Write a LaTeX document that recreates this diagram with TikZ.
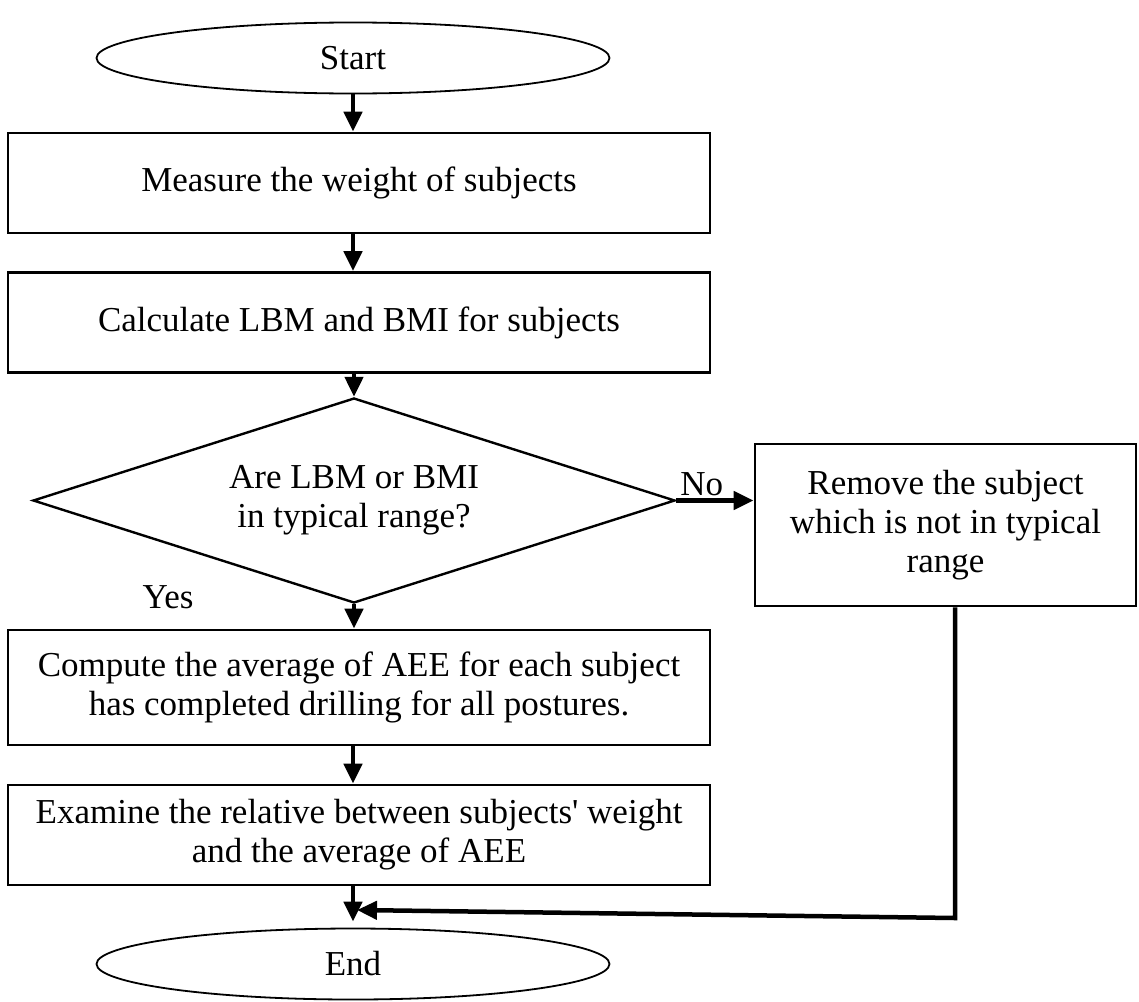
\documentclass[tikz,border=0pt]{standalone}
\usepackage{fontspec}
\setmainfont{Liberation Serif}[Ligatures=TeXOff]
\usetikzlibrary{shapes.geometric,arrows.meta}
\begin{document}
\begin{tikzpicture}[x=1pt,y=-1pt,
  txt/.style={font=\fontsize{35}{39}\selectfont, align=center},
  box/.style={draw, line width=2.8pt, rectangle, minimum width=702pt, minimum height=100pt, inner sep=0pt, txt},
  term/.style={draw, line width=1.8pt, ellipse, minimum width=513pt, minimum height=71pt, inner sep=0pt, txt},
  dec/.style={draw, line width=2.4pt, diamond, aspect=3.1317, minimum width=642pt, minimum height=205pt, inner sep=0pt, txt},
  arr/.style={line width=4.5pt, -{Triangle[length=20pt,width=18pt]}},
  lbl/.style={txt, inner sep=2pt}]
\useasboundingbox (0,0) rectangle (1139,1001);
\node[term] (start) at (353,58) {Start};
\node[box] (b1) at (359,183) {Measure the weight of subjects};
\node[box] (b2) at (359,322.5) {Calculate LBM and BMI for subjects};
\node[dec] (d) at (354,500.5) {Are LBM or BMI\\in typical range?};
\node[box, minimum width=381pt, minimum height=162pt] (r) at (945.5,525) {Remove the subject\\which is not in typical\\range};
\node[box, minimum height=115pt] (b3) at (359,687.5) {Compute the average of AEE for each subject\\has completed drilling for all postures.};
\node[box] (b4) at (359,835) {Examine the relative between subjects' weight\\and the average of AEE};
\node[term] (end) at (353,964) {End};
\node[lbl] (yes) at (168,597) {Yes};
\coordinate (c1) at (955,918);
\coordinate (c2) at (357,910);
\draw[arr] (start.south) -- (start.south |- b1.north);
\draw[arr] (start |- b1.south) -- (start |- b2.north);
\draw[arr] (d |- b2.south) -- (d.north);
\draw[arr] (d.east) -- (d.east -| r.west) node[lbl, pos=0.33, above] (no) {No};
\draw[arr] (d.south) -- (d.south |- b3.north);
\draw[arr] (start |- b3.south) -- (start |- b4.north);
\draw[arr] (start |- b4.south) -- ([yshift=6pt]end.north);
\draw[arr, line join=miter] (r.south -| c1) -- (c1) -- (c2);
\end{tikzpicture}
\end{document}
